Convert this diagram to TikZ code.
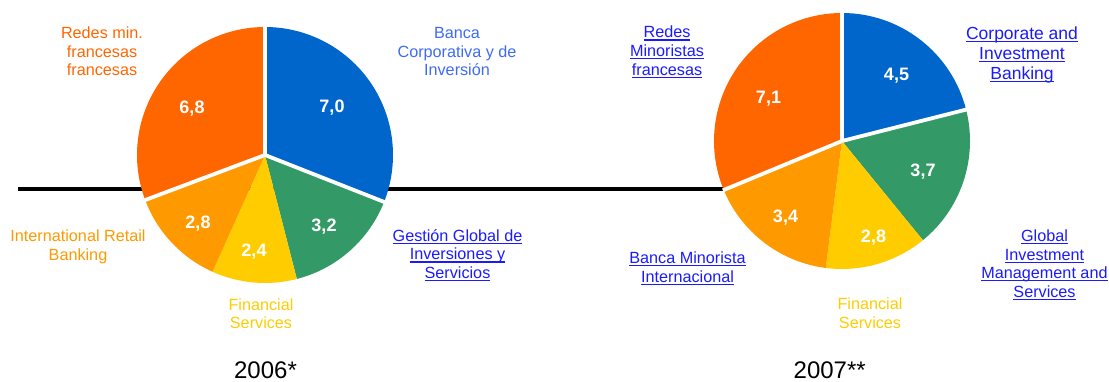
\documentclass[tikz,border=0pt]{standalone}
\usepackage{fontspec}
\setmainfont{Liberation Sans}
\definecolor{cRed}{HTML}{FF6600}
\definecolor{cBlue}{HTML}{0066CC}
\definecolor{cGreen}{HTML}{339966}
\definecolor{cYellow}{HTML}{FFCC00}
\definecolor{cOrange}{HTML}{FF9900}
\definecolor{cLblBlue}{HTML}{3D6BF5}
\definecolor{cLink}{HTML}{1A1AFF}
\newcommand\sa{\rule[-5.6pt]{0pt}{18.6pt}}
\newcommand\sbg{\rule[-6pt]{0pt}{19.8pt}}
\newcommand\ulk[1]{\setbox0=\hbox{#1}\rlap{\rule[-2.7pt]{\wd0}{1.1pt}}\box0}
\tikzset{
  lbl/.style={align=center, inner sep=0pt, anchor=north, font=\fontsize{16.2}{18.6}\selectfont},
  lblbig/.style={align=center, inner sep=0pt, anchor=north, font=\fontsize{17.5}{19.8}\selectfont},
  val/.style={inner sep=0pt, anchor=base, text=white, font=\fontsize{18}{20}\selectfont\bfseries},
  yr/.style={inner sep=0pt, anchor=base, text=black, font=\fontsize{24}{26}\selectfont},
  sep/.style={draw=white, line width=3.8pt},
  axisline/.style={draw=black, line width=3.8pt}
}
\begin{document}
\begin{tikzpicture}[x=1pt,y=1pt]
\useasboundingbox (0,0) rectangle (1109,381);
% centres
\coordinate (L) at (265,226);
\coordinate (R) at (842,240);
% horizontal line
\coordinate (lineA) at (18,192.3);
\coordinate (lineB) at (740,192.3);
\draw[axisline] (lineA) -- (lineB);
% left pie
\fill[cBlue]   (L) -- ++(90:128pt)     arc[start angle=90,     end angle=-21.5,  radius=128pt] -- cycle;
\fill[cGreen]  (L) -- ++(-21.5:128pt)  arc[start angle=-21.5,  end angle=-75.6,  radius=128pt] -- cycle;
\fill[cYellow] (L) -- ++(-75.6:128pt)  arc[start angle=-75.6,  end angle=-114.2, radius=128pt] -- cycle;
\fill[cOrange] (L) -- ++(-114.2:128pt) arc[start angle=-114.2, end angle=-159.4, radius=128pt] -- cycle;
\fill[cRed]    (L) -- ++(-159.4:128pt) arc[start angle=-159.4, end angle=-270,   radius=128pt] -- cycle;
\draw[sep] (L) -- ++(90:129pt);
\draw[sep] (L) -- ++(-21.5:129pt);
\draw[sep] (L) -- ++(-159.4:129pt);
% right pie
\fill[cBlue]   (R) -- ++(90:128pt)     arc[start angle=90,     end angle=14.2,   radius=128pt] -- cycle;
\fill[cGreen]  (R) -- ++(14.2:128pt)   arc[start angle=14.2,   end angle=-50.8,  radius=128pt] -- cycle;
\fill[cYellow] (R) -- ++(-50.8:128pt)  arc[start angle=-50.8,  end angle=-97.3,  radius=128pt] -- cycle;
\fill[cOrange] (R) -- ++(-97.3:128pt)  arc[start angle=-97.3,  end angle=-157.5, radius=128pt] -- cycle;
\fill[cRed]    (R) -- ++(-157.5:128pt) arc[start angle=-157.5, end angle=-270,   radius=128pt] -- cycle;
\draw[sep] (R) -- ++(90:129pt);
\draw[sep] (R) -- ++(14.2:129pt);
\draw[sep] (R) -- ++(-157.5:129pt);
% left values
\node[val] (v68) at (192,267.5) {6,8};
\node[val] (v70) at (332,268.3) {7,0};
\node[val] (v32) at (324,150) {3,2};
\node[val] (v24) at (254,124.3) {2,4};
\node[val] (v28) at (198,152.7) {2,8};
% right values
\node[val] (w71) at (768.5,277.7) {7,1};
\node[val] (w45) at (896.5,300.7) {4,5};
\node[val] (w37) at (923,205) {3,7};
\node[val] (w34) at (785.5,158.7) {3,4};
\node[val] (w28) at (873.5,138.7) {2,8};
% left labels
\node[lbl, text=cRed] (lRedes) at (102,355.7) {\sa Redes min.\\\sa francesas\\\sa francesas};
\node[lbl, text=cLblBlue] (lBanca) at (457,355.7) {\sa Banca\\\sa Corporativa y de\\\sa Inversión};
\node[lbl, text=cOrange] (lIntl) at (78,152.3) {\sa International Retail\\\sa Banking};
\node[lbl, text=cYellow] (lFin) at (261,84) {\sa Financial\\\sa Services};
\node[lbl, text=cLink] (lGest) at (457.5,153) {\sa\ulk{Gestión Global de}\\\sa\ulk{Inversiones y}\\\sa\ulk{Servicios}};
% right labels
\node[lbl, text=cLink] (rRedes) at (667,356.3) {\sa\ulk{Redes}\\\sa\ulk{Minoristas}\\\sa\ulk{francesas}};
\node[lblbig, text=cLink] (rCorp) at (1022,355.3) {\sbg\ulk{Corporate and}\\\sbg\ulk{Investment}\\\sbg\ulk{Banking}};
\node[lbl, text=cLink] (rBanca) at (687.5,130.7) {\sa\ulk{Banca Minorista}\\\sa\ulk{Internacional}};
\node[lbl, text=cYellow] (rFin) at (870,84.5) {\sa Financial\\\sa Services};
\node[lbl, text=cLink] (rGlob) at (1044.5,152.7) {\sa\ulk{Global}\\\sa\ulk{Investment}\\\sa\ulk{Management and}\\\sa\ulk{Services}};
% years
\node[yr] (y06) at (265.5,3) {2006*};
\node[yr] (y07) at (829.7,3) {2007**};
\end{tikzpicture}
\end{document}
